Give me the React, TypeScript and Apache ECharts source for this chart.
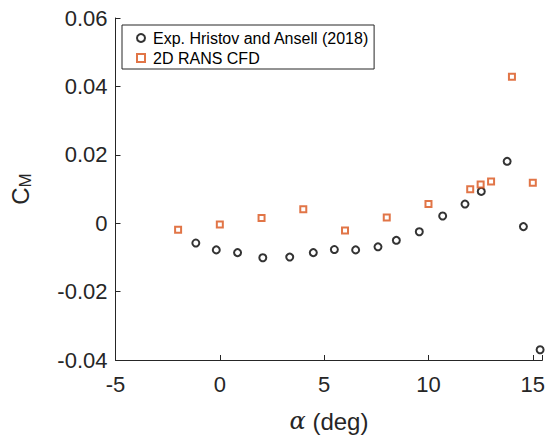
import React, { useEffect, useRef } from "react";
import * as echarts from "echarts";

const expAlpha = [-1.15, -0.17, 0.85, 2.06, 3.35, 4.48, 5.49, 6.51, 7.58, 8.46, 9.56, 10.68, 11.75, 12.53, 13.77, 14.55, 15.35];
const expCm = [-0.0058, -0.0078, -0.0086, -0.0101, -0.0099, -0.0086, -0.0077, -0.0078, -0.0069, -0.005, -0.0025, 0.0021, 0.0056, 0.0093, 0.0181, -0.001, -0.037];

const cfdAlpha = [-2, 0, 2, 4, 6, 8, 10, 12, 12.5, 13, 14, 15];
const cfdCm = [-0.0019, -0.0004, 0.0015, 0.0041, -0.0021, 0.0017, 0.0056, 0.0099, 0.0113, 0.0122, 0.0428, 0.0118];

const seriesNames = ["Exp. Hristov and Ansell (2018)", "2D RANS CFD"];

const FONT = "Liberation Sans, Arial, Helvetica, sans-serif";
const TXT = "#262626";

export default function App() {
  const ref = useRef<HTMLDivElement>(null);
  useEffect(() => {
    if (!ref.current) return;
    const chart = echarts.init(ref.current, undefined, { renderer: "svg" });
    chart.setOption({
      animation: false,
      backgroundColor: "#ffffff",
      textStyle: { fontFamily: FONT },
      grid: { left: 113.7, top: 18, bottom: 75.5, right: 0, containLabel: false },
      legend: {
        orient: "vertical",
        left: 122,
        top: 25,
        padding: [5, 5, 3, 14],
        itemGap: 4,
        itemWidth: 8,
        itemHeight: 8,
        borderColor: TXT,
        borderWidth: 1,
        backgroundColor: "#fff",
        textStyle: { fontSize: 16, color: "#000", fontFamily: FONT, padding: [0, 0, 0, 3] },
        data: seriesNames,
      },
      xAxis: {
        type: "value",
        min: -5,
        max: 15.46,
        interval: 5,
        name: "{a|α} (deg)",
        nameLocation: "middle",
        nameGap: 49,
        nameTextStyle: {
          fontSize: 24,
          color: TXT,
          fontFamily: FONT,
          rich: { a: { fontSize: 24, fontStyle: "italic", fontFamily: "DejaVu Serif, Liberation Serif, serif", color: TXT } },
        },
        axisLine: { onZero: false, lineStyle: { color: TXT, width: 1 } },
        axisTick: { inside: true, length: 5, lineStyle: { color: TXT } },
        axisLabel: {
          fontSize: 22,
          color: TXT,
          margin: 13,
          formatter: (v: number) => (Math.abs(v % 5) < 1e-9 ? String(v) : ""),
        },
        splitLine: { show: false },
      },
      yAxis: {
        type: "value",
        min: -0.04,
        max: 0.06,
        interval: 0.02,
        name: "{c|C}{m|M}",
        nameLocation: "middle",
        nameRotate: 90,
        nameGap: 82,
        nameTextStyle: {
          color: TXT,
          rich: {
            c: { fontSize: 24, color: TXT, fontFamily: FONT },
            m: { fontSize: 17, color: TXT, fontFamily: FONT, verticalAlign: "bottom", padding: [10, 0, 0, 0] },
          },
        },
        axisLine: { show: true, onZero: false, lineStyle: { color: TXT, width: 1 } },
        axisTick: { show: true, inside: true, length: 5, lineStyle: { color: TXT } },
        axisLabel: {
          fontSize: 22,
          color: TXT,
          margin: 8,
          formatter: (v: number) => {
            const r = Math.round(v * 100) / 100;
            return r === 0 ? "0" : r.toFixed(2);
          },
        },
        splitLine: { show: false },
      },
      series: [
        {
          name: seriesNames[0],
          type: "scatter",
          symbol: "emptyCircle",
          symbolSize: 7,
          itemStyle: { color: "#000000", borderWidth: 1 },
          data: expAlpha.map((a, i) => [a, expCm[i]]),
        },
        {
          name: seriesNames[1],
          type: "scatter",
          symbol: "emptyRect",
          symbolSize: 6,
          itemStyle: { color: "#D95319", borderWidth: 1 },
          data: cfdAlpha.map((a, i) => [a, cfdCm[i]]),
        },
      ],
    });
    return () => chart.dispose();
  }, []);
  return (
    <div
      ref={ref}
      style={{ position: "fixed", left: 0, top: 0, width: 548, height: 438, overflow: "hidden", background: "#fff" }}
    />
  );
}
